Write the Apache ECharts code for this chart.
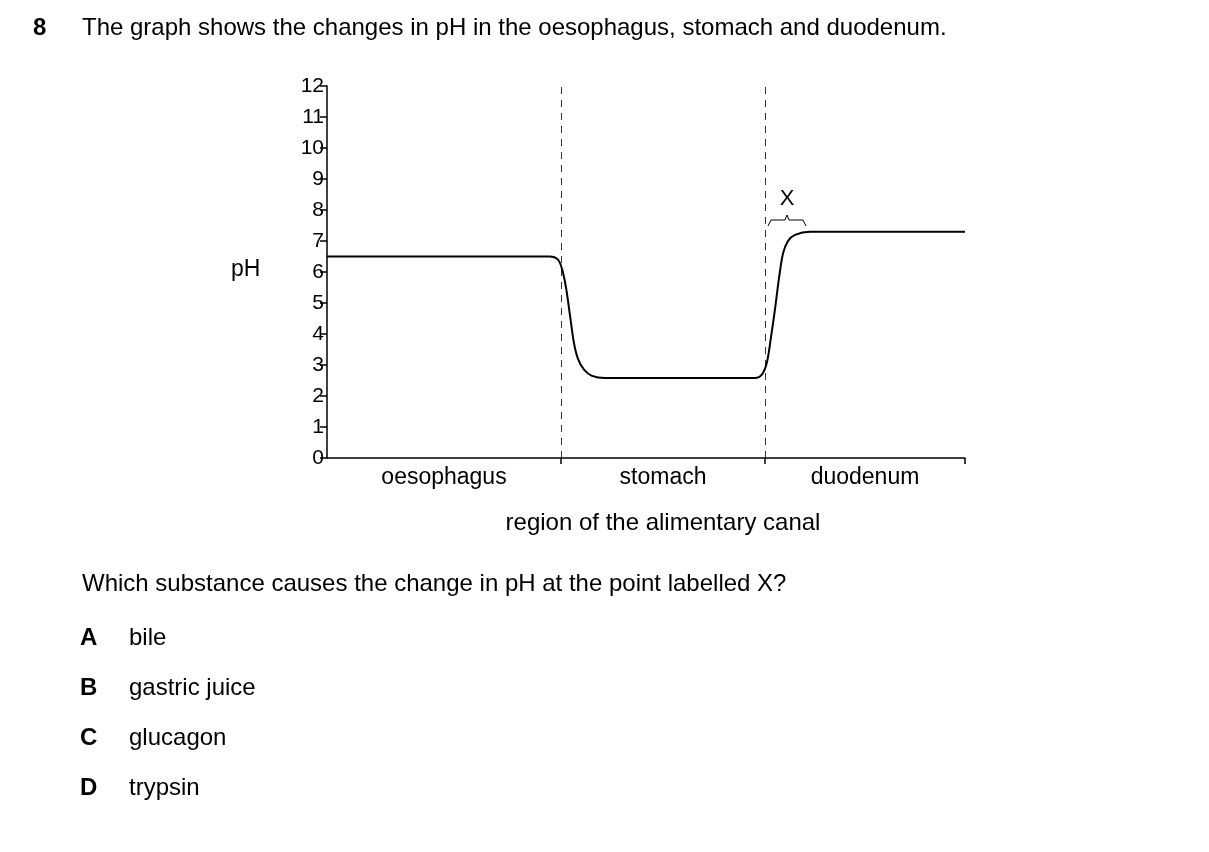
<!DOCTYPE html>
<html><head><meta charset="utf-8">
<script src="https://cdn.jsdelivr.net/npm/echarts@6/dist/echarts.min.js"></script>
<style>html,body{margin:0;background:#fff}#c{width:1209px;height:852px}</style>
</head><body><div id="c"></div>
<script>
// x positions along canal (arbitrary units), pH values
const curveX = [0, 223, 231, 235, 239, 243, 247, 251, 257, 265, 278, 428, 435, 440, 444, 448, 452, 456, 461, 468, 483, 638];
const curvePH = [6.5, 6.5, 6.4, 6.1, 5.5, 4.6, 3.7, 3.2, 2.85, 2.65, 2.58, 2.58, 2.7, 3.1, 3.9, 4.8, 5.8, 6.6, 7.0, 7.2, 7.3, 7.3];
const regionBounds = [234, 438, 638];
const regionNames = ['oesophagus', 'stomach', 'duodenum'];
const regionCentres = [117, 336, 538];
const yTicks = [0,1,2,3,4,5,6,7,8,9,10,11,12];

const F = 'Arial, "Liberation Sans", sans-serif';
const chart = echarts.init(document.getElementById('c'));
const L = 327, T = 86, W = 638, H = 372;
const sx = v => L + v * W / 638;
chart.setOption({
  animation: false,
  grid: {left: L, top: T, width: W, height: H},
  xAxis: {type: 'value', min: 0, max: 638,
    axisLine: {lineStyle: {color: '#000', width: 1.5}},
    axisTick: {show: true, customValues: regionBounds, length: 6, inside: false, lineStyle: {color: '#000', width: 1.5}},
    axisLabel: {show: false}, splitLine: {show: false}},
  yAxis: {type: 'value', min: 0, max: 12, interval: 1,
    axisLine: {show: true, lineStyle: {color: '#000', width: 1.5}},
    axisTick: {show: true, length: 7, lineStyle: {color: '#000', width: 1.5}},
    axisLabel: {color: '#000', fontSize: 21, fontFamily: F, margin: 3},
    splitLine: {show: false}},
  series: [{type: 'line', data: curveX.map((x, i) => [x, curvePH[i]]), smooth: 0.3, symbol: 'none',
    lineStyle: {color: '#000', width: 2},
    markLine: {silent: true, symbol: 'none', label: {show: false},
      lineStyle: {color: '#000', type: [7, 6], width: 0.8},
      data: [
        [{coord: [234, 0]}, {coord: [234, 12]}],
        [{coord: [438, 0]}, {coord: [438, 12]}]
      ]}}],
  graphic: [
    {type: 'text', left: 33, top: 16, style: {text: '8', font: 'bold 24px ' + F, fill: '#000'}},
    {type: 'text', left: 82, top: 16, style: {text: 'The graph shows the changes in pH in the oesophagus, stomach and duodenum.', font: '24px ' + F, fill: '#000'}},
    {type: 'text', left: 231, top: 258, style: {text: 'pH', font: '23px ' + F, fill: '#000'}},
    ...regionNames.map((n, i) => ({type: 'text', x: sx(regionCentres[i]), y: 466, style: {text: n, font: '23px ' + F, fill: '#000', align: 'center'}})),
    {type: 'text', x: 663, y: 511, style: {text: 'region of the alimentary canal', font: '24px ' + F, fill: '#000', align: 'center'}},
    {type: 'text', x: 787, y: 188, style: {text: 'X', font: '22px ' + F, fill: '#000', align: 'center'}},
    {type: 'polyline', shape: {points: [[768,226],[771,220],[785,220],[787,215],[789,220],[803,220],[806,226]]}, style: {stroke: '#000', lineWidth: 1, fill: null}},
    {type: 'text', left: 82, top: 572, style: {text: 'Which substance causes the change in pH at the point labelled X?', font: '24px ' + F, fill: '#000'}},
    ...[['A','bile'],['B','gastric juice'],['C','glucagon'],['D','trypsin']].flatMap((p, i) => [
      {type: 'text', left: 80, top: 626 + i * 50, style: {text: p[0], font: 'bold 24px ' + F, fill: '#000'}},
      {type: 'text', left: 129, top: 626 + i * 50, style: {text: p[1], font: '24px ' + F, fill: '#000'}}
    ])
  ]
});
</script></body></html>
